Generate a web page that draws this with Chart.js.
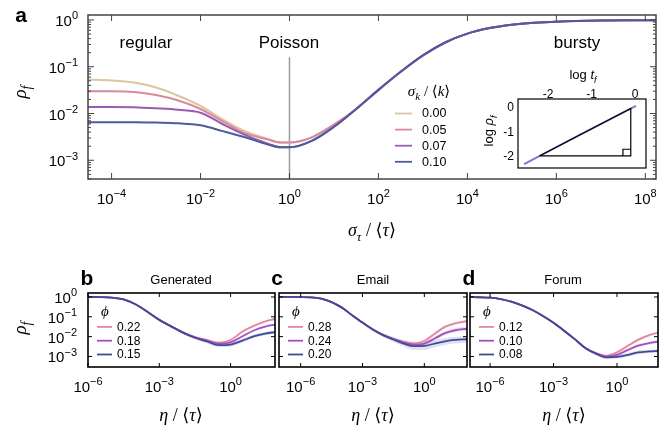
<!DOCTYPE html>
<html>
<head>
<meta charset="utf-8">
<title>rho_f vs sigma_tau</title>
<script src="https://cdn.jsdelivr.net/npm/chart.js@4.4.1/dist/chart.umd.min.js"></script>
<style>
  body { margin: 0; background: #fff; }
  #fig { position: relative; width: 665px; height: 432px; overflow: hidden; }
  #fig canvas { position: absolute; }
</style>
</head>
<body>
<div id="fig">
  <canvas id="panelA" width="665" height="245" style="left:0;top:0"></canvas>
  <canvas id="inset" width="185" height="115" style="left:470px;top:60px"></canvas>
  <canvas id="panelB" width="280" height="170" style="left:0;top:262px"></canvas>
  <canvas id="panelC" width="212" height="170" style="left:258px;top:262px"></canvas>
  <canvas id="panelD" width="215" height="170" style="left:450px;top:262px"></canvas>
</div>
<script>
// ---------- panel a : rho_f against log10(sigma_tau / <tau>) ----------
const aLogX = [-4.53, -4, -3.5, -3, -2.5, -2, -1.5, -1, -0.5, -0.2, 0, 0.5, 1, 1.5, 2, 2.5, 3, 3.5, 4, 4.5, 5, 5.5, 6, 7, 8, 8.24];
const aLabels = ['0.00', '0.05', '0.07', '0.10'];
const aRho000 = [0.053, 0.051, 0.046, 0.036, 0.024, 0.0145, 0.0075, 0.0042, 0.0029, 0.0024, 0.0024, 0.0031, 0.0058, 0.0125, 0.032, 0.078, 0.175, 0.33, 0.51, 0.67, 0.79, 0.87, 0.92, 0.97, 0.985, 0.99];
const aRho005 = [0.030, 0.030, 0.029, 0.025, 0.019, 0.0125, 0.0068, 0.0038, 0.0028, 0.0024, 0.0024, 0.0031, 0.0058, 0.0125, 0.032, 0.078, 0.175, 0.33, 0.51, 0.67, 0.79, 0.87, 0.92, 0.97, 0.985, 0.99];
const aRho007 = [0.0138, 0.0138, 0.0136, 0.0129, 0.0120, 0.0104, 0.0059, 0.0035, 0.0023, 0.0019, 0.0019, 0.0026, 0.0052, 0.0125, 0.032, 0.078, 0.175, 0.33, 0.51, 0.67, 0.79, 0.87, 0.92, 0.97, 0.985, 0.99];
const aRho010 = [0.0065, 0.0065, 0.0065, 0.0064, 0.0062, 0.0056, 0.0042, 0.0031, 0.0022, 0.0019, 0.0019, 0.0026, 0.0052, 0.0125, 0.032, 0.078, 0.175, 0.33, 0.51, 0.67, 0.79, 0.87, 0.92, 0.97, 0.985, 0.99];
const aXTicks = [-4, -2, 0, 2, 4, 6, 8];
const aYTicks = [-3, -2, -1, 0];
const poissonLogX = [0, 0];
const poissonRho = [0.0004, 0.16];

// inset: log rho_f against log t_f
const insetLogT = [-2.55, -1.25, 0.02];
const insetLogRho = [-2.33, -1.13, 0.03];
const triLogT = [-2.2, -0.1, -0.1, -2.2];
const triLogRho = [-2.0, -2.0, -0.07, -2.0];
const sqLogT = [-0.28, -0.28, -0.1];
const sqLogRho = [-2.0, -1.73, -1.73];
const insetTicks = [-2, -1, 0];

// ---------- panels b, c, d : rho_f against log10(eta / <tau>) ----------
const smallXTicks = [-6, -3, 0];
const smallYTicks = [-3, -2, -1, 0];

// b: Generated
const bLabels = ['0.22', '0.18', '0.15'];
const bLogX = [-6, -5.5, -5, -4.5, -4, -3.5, -3, -2.5, -2, -1.5, -1, -0.5, 0, 0.5, 1, 1.5, 1.87];
const bPink = [1.0, 0.98, 0.92, 0.76, 0.43, 0.18, 0.07, 0.033, 0.016, 0.0095, 0.0068, 0.0050, 0.0068, 0.018, 0.036, 0.060, 0.078];
const bPurple = [1.0, 0.98, 0.92, 0.76, 0.43, 0.18, 0.07, 0.033, 0.016, 0.0092, 0.0063, 0.0044, 0.0051, 0.0105, 0.021, 0.033, 0.040];
const bBlue = [1.0, 0.98, 0.92, 0.76, 0.43, 0.18, 0.07, 0.033, 0.016, 0.0088, 0.0058, 0.0037, 0.0040, 0.0063, 0.0105, 0.0145, 0.017];
const bBandX = [-3, -2.5, -2, -1.5, -1, -0.5, 0, 0.5, 1, 1.5, 1.87];
const bPinkLo = [0.067, 0.031, 0.0148, 0.0086, 0.0061, 0.0045, 0.0060, 0.0158, 0.032, 0.054, 0.070];
const bPinkHi = [0.073, 0.035, 0.0173, 0.0105, 0.0076, 0.0056, 0.0077, 0.0205, 0.040, 0.067, 0.087];
const bPurpleLo = [0.067, 0.031, 0.0147, 0.0083, 0.0056, 0.0039, 0.0045, 0.0093, 0.0187, 0.0295, 0.036];
const bPurpleHi = [0.073, 0.035, 0.0174, 0.0102, 0.0071, 0.0050, 0.0058, 0.0119, 0.0236, 0.037, 0.045];
const bBlueLo = [0.065, 0.029, 0.0135, 0.0072, 0.0046, 0.0029, 0.0031, 0.0050, 0.0086, 0.012, 0.0142];
const bBlueHi = [0.075, 0.037, 0.019, 0.0107, 0.0072, 0.0047, 0.0051, 0.0079, 0.0128, 0.0175, 0.020];

// c: Email
const cLabels = ['0.28', '0.24', '0.20'];
const cLogX = [-7.05, -6.5, -6, -5.5, -5, -4.5, -4, -3.5, -3, -2.5, -2, -1.5, -1, -0.5, 0, 0.5, 1, 1.5, 2.07];
const cPink = [1.0, 1.0, 0.99, 0.96, 0.82, 0.55, 0.29, 0.12, 0.051, 0.023, 0.012, 0.0077, 0.0056, 0.0046, 0.0060, 0.014, 0.031, 0.047, 0.060];
const cPurple = [1.0, 1.0, 0.99, 0.96, 0.82, 0.55, 0.29, 0.12, 0.051, 0.023, 0.012, 0.0075, 0.0050, 0.0040, 0.0045, 0.0080, 0.015, 0.021, 0.025];
const cBlue = [1.0, 1.0, 0.99, 0.96, 0.82, 0.55, 0.29, 0.12, 0.051, 0.023, 0.012, 0.0072, 0.0045, 0.0033, 0.0034, 0.0045, 0.0058, 0.0068, 0.0074];
const cBandX = [-3, -2.5, -2, -1.5, -1, -0.5, 0, 0.5, 1, 1.5, 2.07];
const cPinkLo = [0.046, 0.0205, 0.0105, 0.0066, 0.0047, 0.0038, 0.0050, 0.0118, 0.026, 0.040, 0.051];
const cPinkHi = [0.056, 0.026, 0.014, 0.0091, 0.0067, 0.0055, 0.0072, 0.0166, 0.037, 0.056, 0.071];
const cPurpleLo = [0.045, 0.020, 0.0102, 0.0062, 0.0040, 0.0031, 0.0035, 0.0063, 0.0118, 0.0166, 0.020];
const cPurpleHi = [0.057, 0.026, 0.0142, 0.0091, 0.0062, 0.0051, 0.0058, 0.0102, 0.019, 0.027, 0.032];
const cBlueLo = [0.044, 0.019, 0.0095, 0.0054, 0.0032, 0.0021, 0.0021, 0.0029, 0.0038, 0.0045, 0.0049];
const cBlueHi = [0.058, 0.027, 0.0150, 0.0095, 0.0062, 0.0048, 0.0051, 0.0066, 0.0085, 0.0098, 0.0105];

// d: Forum
const dLabels = ['0.12', '0.10', '0.08'];
const dLogX = [-6.95, -6.5, -6, -5.5, -5, -4.5, -4, -3.5, -3, -2.5, -2, -1.5, -1, -0.5, 0, 0.5, 1, 1.5, 1.94];
const dPink = [1.0, 0.97, 0.92, 0.78, 0.58, 0.38, 0.22, 0.11, 0.05, 0.02, 0.0075, 0.0027, 0.0015, 0.0011, 0.0016, 0.0034, 0.0069, 0.0115, 0.016];
const dPurple = [1.0, 0.97, 0.92, 0.78, 0.58, 0.38, 0.22, 0.11, 0.05, 0.02, 0.0075, 0.0027, 0.00145, 0.00098, 0.0012, 0.0021, 0.0035, 0.0047, 0.0056];
const dBlue = [1.0, 0.97, 0.92, 0.78, 0.58, 0.38, 0.22, 0.11, 0.05, 0.02, 0.0075, 0.0027, 0.0014, 0.0009, 0.00095, 0.0012, 0.0016, 0.0018, 0.0019];
const dBandX = [-3, -2.5, -2, -1.5, -1, -0.5, 0, 0.5, 1, 1.5, 1.94];
const dPinkLo = [0.047, 0.0188, 0.0069, 0.0024, 0.0013, 0.00095, 0.0014, 0.0029, 0.0059, 0.0098, 0.0136];
const dPinkHi = [0.053, 0.0213, 0.0082, 0.0030, 0.0017, 0.00127, 0.0019, 0.0040, 0.0081, 0.0135, 0.0188];
const dPurpleLo = [0.047, 0.0188, 0.0069, 0.0024, 0.00125, 0.00083, 0.00101, 0.00177, 0.0029, 0.0039, 0.0047];
const dPurpleHi = [0.053, 0.0213, 0.0082, 0.0030, 0.00168, 0.00116, 0.00142, 0.0025, 0.0042, 0.0056, 0.0067];
const dBlueLo = [0.046, 0.0184, 0.0068, 0.0023, 0.00117, 0.00073, 0.00076, 0.00097, 0.0013, 0.00147, 0.00155];
const dBlueHi = [0.054, 0.0218, 0.0083, 0.0031, 0.00168, 0.00111, 0.00119, 0.00149, 0.0020, 0.0022, 0.0023];

// ---------- look ----------
const SANS = '"Liberation Sans", Arial, sans-serif';
const SERIF = '"Liberation Serif", "DejaVu Serif", serif';
const aColors = ['#dcc6a0', '#d8899d', '#9a5bb2', '#4d5c9c'];
const lineColors = ['#e3879c', '#a550c0', '#3e4b94'];
const bandColors = ['rgba(227,135,156,0.22)', 'rgba(165,80,192,0.16)', 'rgba(95,100,195,0.2)'];

const pow10 = (e) => Math.pow(10, e);
const logPts = (xs, ys) => xs.map((e, i) => ({ x: pow10(e), y: ys[i] }));
const linPts = (xs, ys) => xs.map((v, i) => ({ x: v, y: ys[i] }));

// text with sub/superscripts: parts = [[text, 'sub'|'sup'|'', italic], ...], y is the baseline
function drawRich(ctx, parts, x, y, o) {
  const size = o.size;
  const small = Math.round(size * 0.72);
  const fontFor = (p) => `${p[2] ? 'italic ' : ''}${o.weight || ''} ${p[1] ? small : size}px ${o.family}`;
  let w = 0;
  const widths = parts.map((p) => {
    ctx.font = fontFor(p);
    const m = ctx.measureText(p[0]).width;
    w += m;
    return m;
  });
  ctx.save();
  ctx.translate(x, y);
  if (o.rotate) ctx.rotate(o.rotate);
  let cx = o.align === 'right' ? -w : o.align === 'left' ? 0 : -w / 2;
  ctx.textAlign = 'left';
  ctx.textBaseline = 'alphabetic';
  ctx.fillStyle = o.color || '#000';
  parts.forEach((p, i) => {
    ctx.font = fontFor(p);
    const dy = p[1] === 'sub' ? size * 0.28 : p[1] === 'sup' ? -size * 0.45 : 0;
    ctx.fillText(p[0], cx, dy);
    cx += widths[i];
  });
  ctx.restore();
}

function expParts(v) {
  const e = Math.round(Math.log10(v));
  return [['10', ''], [e < 0 ? '\u2212' + (-e) : String(e), 'sup']];
}
const plainParts = (v) => [[String(v), '']];

// frame, inward ticks, tick labels, free texts and legend
const figure = {
  id: 'figure',
  afterDraw(chart, args, o) {
    const ctx = chart.ctx;
    const area = chart.chartArea;
    const sx = chart.scales.x, sy = chart.scales.y;
    const fmt = o.plain ? plainParts : expParts;
    const lsize = o.labelSize || 15;
    ctx.save();
    if (o.tickLen) {
      ctx.beginPath();
      ctx.strokeStyle = o.frameColor;
      ctx.lineWidth = 1;
      sx.ticks.forEach((t) => {
        const px = sx.getPixelForValue(t.value);
        ctx.moveTo(px, area.bottom); ctx.lineTo(px, area.bottom - o.tickLen);
        ctx.moveTo(px, area.top); ctx.lineTo(px, area.top + o.tickLen);
      });
      sy.ticks.forEach((t) => {
        const py = sy.getPixelForValue(t.value);
        ctx.moveTo(area.left, py); ctx.lineTo(area.left + o.tickLen, py);
        ctx.moveTo(area.right, py); ctx.lineTo(area.right - o.tickLen, py);
      });
      if (o.minorLen) {
        const lo = Math.floor(Math.log10(sy.min)), hi = Math.ceil(Math.log10(sy.max));
        for (let d = lo; d < hi; d++) {
          for (let m = 2; m <= 9; m++) {
            const v = m * pow10(d);
            if (v < sy.min || v > sy.max) continue;
            const py = sy.getPixelForValue(v);
            ctx.moveTo(area.left, py); ctx.lineTo(area.left + o.minorLen, py);
            ctx.moveTo(area.right, py); ctx.lineTo(area.right - o.minorLen, py);
          }
        }
      }
      ctx.stroke();
    }
    ctx.lineWidth = o.frameWidth;
    ctx.strokeStyle = o.frameColor;
    ctx.strokeRect(area.left, area.top, area.right - area.left, area.bottom - area.top);

    // x labels: offset of the baseline from the bottom edge (or from the top edge when xTop)
    if (o.xLabels !== undefined && o.xLabels !== null) {
      const base = o.xTop ? area.top : area.bottom;
      sx.ticks.forEach((t) => {
        drawRich(ctx, fmt(t.value), sx.getPixelForValue(t.value), base + o.xLabels,
          { size: lsize, family: SANS, align: 'center' });
      });
    }
    if (o.yLabels) {
      sy.ticks.forEach((t) => {
        drawRich(ctx, fmt(t.value), area.left - o.yLabels[0], sy.getPixelForValue(t.value) + o.yLabels[1],
          { size: lsize, family: SANS, align: 'right' });
      });
    }

    ctx.translate(-o.origin[0], -o.origin[1]);
    (o.texts || []).forEach((t) => drawRich(ctx, t.parts, t.x, t.y, t));

    if (o.legend) {
      const L = o.legend;
      drawRich(ctx, L.title, L.titleX, L.titleY, { size: L.titleSize, family: SERIF });
      chart.data.datasets.filter((d) => d.showInLegend).forEach((d, i) => {
        const y = L.y0 + i * L.dy;
        ctx.strokeStyle = d.borderColor;
        ctx.lineWidth = 1.8;
        ctx.beginPath(); ctx.moveTo(L.x0, y); ctx.lineTo(L.x1, y); ctx.stroke();
        ctx.fillStyle = '#000';
        ctx.font = `${L.size}px ${SANS}`;
        ctx.textAlign = 'left';
        ctx.textBaseline = 'middle';
        ctx.fillText(d.label, L.textX, y + 0.5);
      });
    }
    ctx.restore();
  }
};

const hidden = { ticks: { display: false }, grid: { display: false }, border: { display: false } };
const logAxis = (lo, hi, tickExps, fit) => Object.assign({
  type: 'logarithmic', bounds: 'data', min: pow10(lo), max: pow10(hi),
  afterBuildTicks: (s) => { s.ticks = tickExps.map((e) => ({ value: pow10(e) })); },
  afterFit: fit
}, hidden);
const linAxis = (lo, hi, ticks, pos, fit) => Object.assign({
  type: 'linear', position: pos, min: lo, max: hi,
  afterBuildTicks: (s) => { s.ticks = ticks.map((v) => ({ value: v })); },
  afterFit: fit
}, hidden);

const rhoTitle = (x, y) => ({ parts: [['\u03C1', '', true], ['f', 'sub', true]], x: x, y: y, size: 19, family: SERIF, rotate: -Math.PI / 2 });
const etaTitle = (x) => ({ parts: [['\u03B7', '', true], [' / \u27E8', ''], ['\u03C4', '', true], ['\u27E9', '']], x: x, y: 421, size: 18, family: SERIF });

// ---------- panel a ----------
new Chart(document.getElementById('panelA'), {
  type: 'line',
  data: {
    datasets: [aRho000, aRho005, aRho007, aRho010].map((ys, i) => ({
      label: aLabels[i],
      data: logPts(aLogX, ys),
      borderColor: aColors[i],
      borderWidth: 2,
      pointRadius: 0,
      cubicInterpolationMode: 'monotone',
      order: 4 - i,
      showInLegend: true
    })).concat([{
      data: logPts(poissonLogX, poissonRho),
      borderColor: '#9a9a9a',
      borderWidth: 1.5,
      pointRadius: 0,
      order: 9
    }])
  },
  options: {
    responsive: false,
    animation: false,
    events: [],
    layout: { padding: { left: 0, top: 15, right: 9, bottom: 0 } },
    scales: {
      x: logAxis(-4.53, 8.24, aXTicks, (s) => { s.height = 66; }),
      y: logAxis(-3.40, 0.106, aYTicks, (s) => { s.width = 88; })
    },
    plugins: {
      legend: { display: false },
      tooltip: { enabled: false },
      figure: {
        origin: [0, 0],
        frameColor: '#444', frameWidth: 1.5, tickLen: 6, minorLen: 3,
        xLabels: 24.5, yLabels: [10, 6],
        texts: [
          { parts: [['a', '']], x: 21, y: 22, size: 21, weight: 'bold', family: SANS },
          { parts: [['regular', '']], x: 146, y: 48, size: 17, family: SANS },
          { parts: [['Poisson', '']], x: 289, y: 48, size: 17, family: SANS },
          { parts: [['bursty', '']], x: 577, y: 48, size: 17, family: SANS },
          rhoTitle(26, 92),
          { parts: [['\u03C3', '', true], ['\u03C4', 'sub', true], [' / \u27E8', ''], ['\u03C4', '', true], ['\u27E9', '']], x: 372, y: 236, size: 18, family: SERIF }
        ],
        legend: {
          title: [['\u03C3', '', true], ['k', 'sub', true], [' / \u27E8', ''], ['k', '', true], ['\u27E9', '']],
          titleX: 429, titleY: 96, titleSize: 15,
          x0: 395, x1: 412, textX: 422, y0: 113.5, dy: 16.1, size: 12.5
        }
      }
    }
  },
  plugins: [figure]
});

// ---------- inset ----------
new Chart(document.getElementById('inset'), {
  type: 'line',
  data: {
    datasets: [
      { data: linPts(triLogT, triLogRho), borderColor: '#000', borderWidth: 1.2, pointRadius: 0, tension: 0, order: 1 },
      { data: linPts(sqLogT, sqLogRho), borderColor: '#000', borderWidth: 1.2, pointRadius: 0, tension: 0, order: 1 },
      { data: linPts(insetLogT, insetLogRho), borderColor: '#8a72cc', borderWidth: 2, pointRadius: 0, tension: 0, order: 2 }
    ]
  },
  options: {
    responsive: false,
    animation: false,
    events: [],
    layout: { padding: { left: 0, top: 0, right: 9, bottom: 7 } },
    scales: {
      x: linAxis(-2.69, 0.25, insetTicks, 'top', (s) => { s.height = 39; }),
      y: linAxis(-2.49, 0.31, insetTicks, 'left', (s) => { s.width = 48; })
    },
    plugins: {
      legend: { display: false },
      tooltip: { enabled: false },
      figure: {
        origin: [470, 60],
        frameColor: '#000', frameWidth: 1.2, tickLen: 0,
        plain: true, labelSize: 12, xTop: true, xLabels: -1.5, yLabels: [4, 4.3],
        texts: [
          { parts: [['log ', ''], ['t', '', true], ['f', 'sub', true]], x: 583, y: 79, size: 13, family: SANS },
          { parts: [['log ', ''], ['\u03C1', '', true], ['f', 'sub', true]], x: 493, y: 131, size: 13, family: SANS, rotate: -Math.PI / 2 }
        ]
      }
    }
  },
  plugins: [figure]
});

// ---------- panels b, c, d ----------
function smallPanel(id, origin, padLeft, padRight, showY, xRange, labels, lineX, lines, bandX, bands, texts) {
  const datasets = [];
  bands.forEach((b, i) => {
    datasets.push({ data: logPts(bandX, b[0]), borderWidth: 0, pointRadius: 0, fill: false, cubicInterpolationMode: 'monotone', order: 10 });
    datasets.push({ data: logPts(bandX, b[1]), borderWidth: 0, pointRadius: 0, fill: '-1', backgroundColor: bandColors[i], cubicInterpolationMode: 'monotone', order: 10 });
  });
  lines.forEach((ys, i) => {
    datasets.push({
      label: labels[i], data: logPts(lineX, ys), borderColor: lineColors[i], borderWidth: 1.8,
      pointRadius: 0, cubicInterpolationMode: 'monotone', order: 3 - i, showInLegend: true
    });
  });
  const yWidth = showY ? 88 : 0;
  const left = origin[0] + yWidth + padLeft;
  return new Chart(document.getElementById(id), {
    type: 'line',
    data: { datasets: datasets },
    options: {
      responsive: false,
      animation: false,
      events: [],
      layout: { padding: { left: padLeft, top: 31, right: padRight, bottom: 0 } },
      scales: {
        x: logAxis(xRange[0], xRange[1], smallXTicks, (s) => { s.height = 65; }),
        y: Object.assign(logAxis(-3.53, 0.2, smallYTicks, (s) => { s.width = yWidth; }), { display: showY })
      },
      plugins: {
        legend: { display: false },
        tooltip: { enabled: false },
        figure: {
          origin: origin,
          frameColor: '#000', frameWidth: 1.6, tickLen: 4,
          xLabels: 25, yLabels: showY ? [11, 6] : null,
          texts: texts,
          legend: {
            title: [['\u03D5', '', true]], titleX: left + 17, titleY: 316, titleSize: 15,
            x0: left + 9, x1: left + 24, textX: left + 29, y0: 326.9, dy: 13.8, size: 12
          }
        }
      }
    },
    plugins: [figure]
  });
}

smallPanel('panelB', [0, 262], 0, 5, true, [-6, 1.87], bLabels, bLogX, [bPink, bPurple, bBlue],
  bBandX, [[bPinkLo, bPinkHi], [bPurpleLo, bPurpleHi], [bBlueLo, bBlueHi]],
  [
    { parts: [['b', '']], x: 87, y: 285, size: 21, weight: 'bold', family: SANS },
    { parts: [['Generated', '']], x: 181, y: 284, size: 13, family: SANS },
    rhoTitle(26, 328),
    etaTitle(181)
  ]);

smallPanel('panelC', [258, 262], 21, 3, false, [-7.05, 2.07], cLabels, cLogX, [cPink, cPurple, cBlue],
  cBandX, [[cPinkLo, cPinkHi], [cPurpleLo, cPurpleHi], [cBlueLo, cBlueHi]],
  [
    { parts: [['c', '']], x: 277, y: 285, size: 21, weight: 'bold', family: SANS },
    { parts: [['Email', '']], x: 373, y: 284, size: 13, family: SANS },
    etaTitle(373)
  ]);

smallPanel('panelD', [450, 262], 20, 7, false, [-6.95, 1.94], dLabels, dLogX, [dPink, dPurple, dBlue],
  dBandX, [[dPinkLo, dPinkHi], [dPurpleLo, dPurpleHi], [dBlueLo, dBlueHi]],
  [
    { parts: [['d', '']], x: 469, y: 285, size: 21, weight: 'bold', family: SANS },
    { parts: [['Forum', '']], x: 563, y: 284, size: 13, family: SANS },
    etaTitle(564)
  ]);
</script>
</body>
</html>
